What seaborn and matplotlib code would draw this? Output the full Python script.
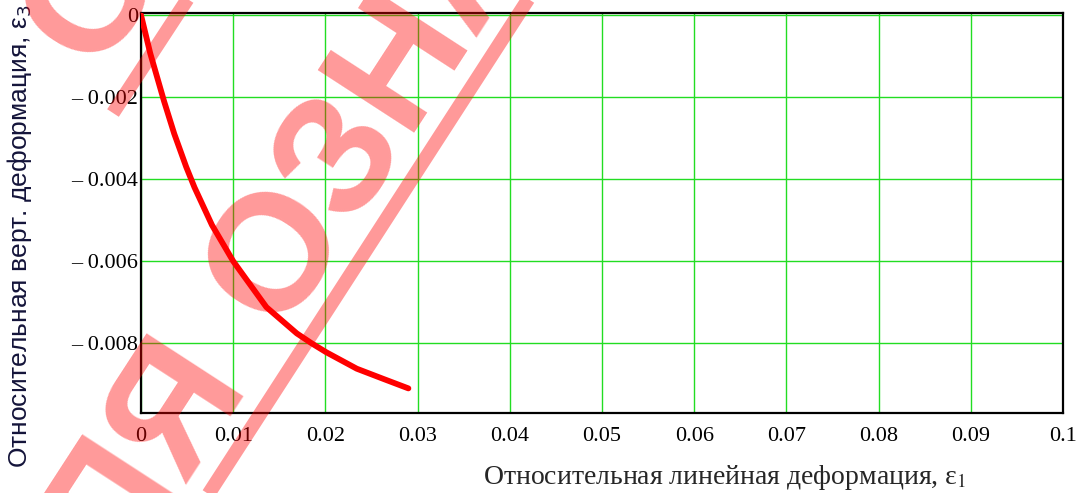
import numpy as np
import pandas as pd
import matplotlib
matplotlib.use('Agg')
import matplotlib.pyplot as plt
from matplotlib.lines import Line2D
import seaborn as sns

# данные кривой
eps1 = [0.0, 0.0010, 0.0025, 0.0036, 0.0049, 0.0058, 0.0077, 0.0100,
        0.0136, 0.0169, 0.0185, 0.0201, 0.0234, 0.0263, 0.0290]
eps3 = [0.0, -0.00093, -0.0021, -0.00289, -0.00370, -0.00420, -0.00512, -0.0060,
        -0.00712, -0.00776, -0.00800, -0.00822, -0.00862, -0.00887, -0.0091]

x_ticks = [0, 0.01, 0.02, 0.03, 0.04, 0.05, 0.06, 0.07, 0.08, 0.09, 0.1]
x_ticklabels = ['0', '0.01', '0.02', '0.03', '0.04', '0.05', '0.06', '0.07', '0.08', '0.09', '0.1']
y_ticks = [0, -0.002, -0.004, -0.006, -0.008]
y_ticklabels = ['0', '\u2013 0.002', '\u2013 0.004', '\u2013 0.006', '\u2013 0.008']

sns.set_style('white')
plt.rcParams['font.family'] = ['Liberation Serif', 'DejaVu Serif']

W, H = 1083, 493
fig = plt.figure(figsize=(W / 100, H / 100), dpi=100)
ax = fig.add_axes([141 / W, 1 - 413 / H, (1063 - 141) / W, (413 - 13) / H])

df = pd.DataFrame({'eps1': eps1, 'eps3': eps3})
sns.lineplot(data=df, x='eps1', y='eps3', ax=ax, color='#ff0000', linewidth=4.2,
             sort=False, solid_capstyle='round', solid_joinstyle='round', zorder=5)

ax.set_xlim(0, 0.1)
ax.set_ylim(-0.0097, 0.00005)
ax.set_xticks(x_ticks)
ax.set_xticklabels(x_ticklabels)
ax.set_yticks(y_ticks)
ax.set_yticklabels(y_ticklabels)
ax.tick_params(axis='both', length=0, labelsize=16, colors='black')
ax.tick_params(axis='x', pad=10)
ax.tick_params(axis='y', pad=2)
ax.grid(True, color='#22dd22', linewidth=1.0)
for s in ax.spines.values():
    s.set_visible(True)
    s.set_color('black')
    s.set_linewidth(1.6)
ax.set_xlabel('')
ax.set_ylabel('')

fig.text(725 / W, 1 - 478 / H, 'Относительная линейная деформация, ε$_1$',
         ha='center', va='center', fontsize=20, family='Liberation Serif',
         math_fontfamily='stix')
fig.text(20 / W, 1 - 236 / H, 'Относительная верт. деформация, ε$_3$',
         ha='center', va='center', rotation=90, fontsize=19,
         family='Liberation Sans', color='#14143a', math_fontfamily='dejavusans')

# водяной знак
wm = dict(rotation=57, rotation_mode='anchor', fontsize=120, fontweight='bold',
          color='red', alpha=0.4, family='Liberation Sans', va='baseline', zorder=10)
fig.text(278 / W, 1 - 332 / H, 'ОЗНАКОМЛЕНИЯ', ha='left', **wm)
fig.text(250 / W, 1 - 385 / H, 'ДЛЯ', ha='right', **wm)
fig.text(95 / W, 1 - 72 / H, 'ОЗНАКОМЛЕНИЯ', ha='left', **wm)
for (xa, ya), (xb, yb) in [((140, 600), (560, -50)), ((113, 113), (200, -20))]:
    fig.add_artist(Line2D([xa / W, xb / W], [1 - ya / H, 1 - yb / H],
                          transform=fig.transFigure, color='red', alpha=0.4,
                          linewidth=10, solid_capstyle='butt', zorder=10))

fig.savefig('out.png', dpi=100)
